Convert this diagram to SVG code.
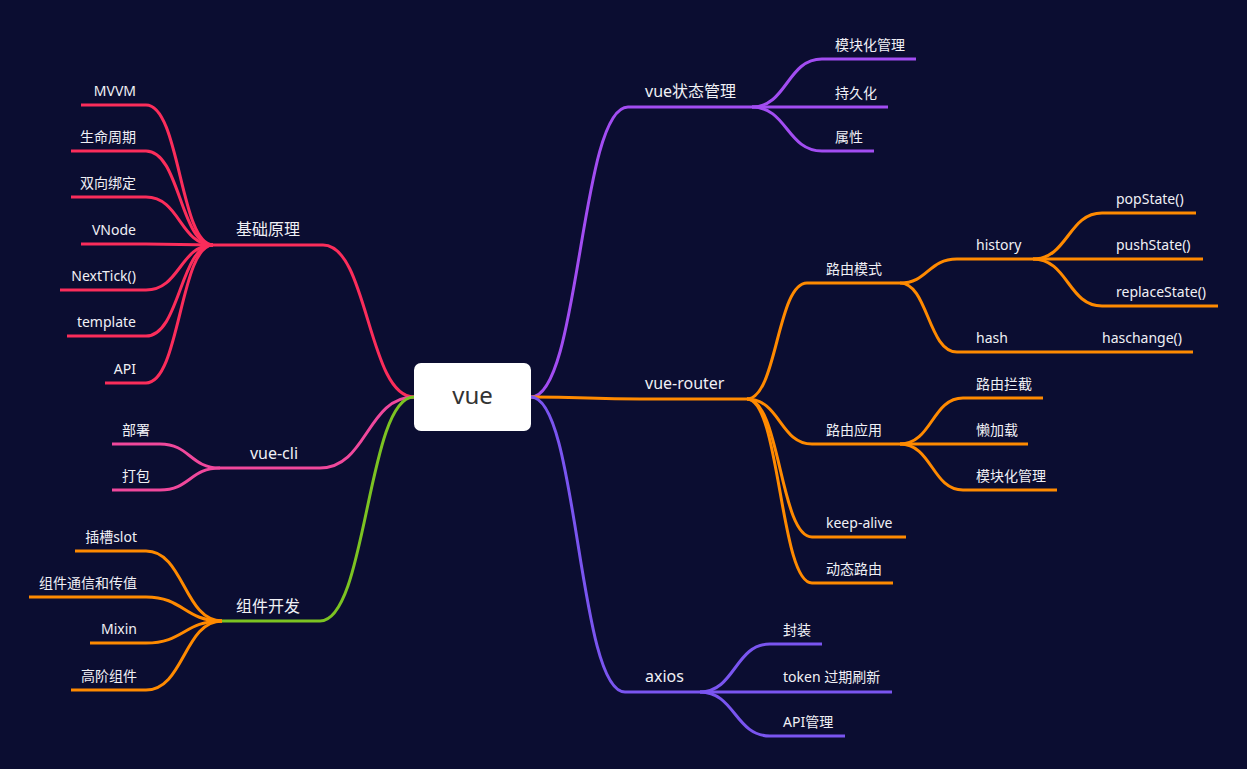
<svg xmlns="http://www.w3.org/2000/svg" width="1247" height="769" viewBox="0 0 1247 769">
<style>
.t{font-family:"Noto Sans","Noto Sans CJK SC",sans-serif;font-size:14px;fill:#f0f0f5}
.l1{font-size:16px}
.e{text-anchor:end}
.m{text-anchor:middle}
path{fill:none;stroke-width:3;stroke-linecap:butt}
.red{stroke:#fb2d5b}
.pink{stroke:#f0489c}
.green{stroke:#7cc322}
.orange{stroke:#ff8a00}
.purple{stroke:#a24df2}
.violet{stroke:#7a55f0}
</style>
<rect width="1247" height="769" fill="#0b0d31"/>
<g id="connectors">
  <!-- 基础原理 -->
  <path class="red" d="M414 397 C368 397 368 245 323 245 H213"/>
  <path class="red" d="M81 105 H146 C180 105 180 245 213 245"/>
  <path class="red" d="M71 151 H146 C180 151 180 245 213 245"/>
  <path class="red" d="M71 197 H146 C180 197 180 245 213 245"/>
  <path class="red" d="M81 244 H146 C180 244 180 245 213 245"/>
  <path class="red" d="M60 290 H146 C180 290 180 245 213 245"/>
  <path class="red" d="M67 336 H146 C180 336 180 245 213 245"/>
  <path class="red" d="M105 383 H146 C180 383 180 245 213 245"/>
  <!-- vue-cli -->
  <path class="pink" d="M414 397 C367 397 367 468 320 468 H220"/>
  <path class="pink" d="M112 444 H160 C190 444 190 468 220 468"/>
  <path class="pink" d="M112 490 H160 C190 490 190 468 220 468"/>
  <!-- 组件开发 -->
  <path class="green" d="M414 397 C367 397 367 621 320 621 H222"/>
  <path class="orange" d="M75 551 H146 C184 551 184 621 222 621"/>
  <path class="orange" d="M29 597 H146 C184 597 184 621 222 621"/>
  <path class="orange" d="M90 643 H146 C184 643 184 621 222 621"/>
  <path class="orange" d="M71 690 H146 C184 690 184 621 222 621"/>
  <!-- vue状态管理 -->
  <path class="purple" d="M531 397 C580 397 580 107 628 107 H752"/>
  <path class="purple" d="M752 107 C787 107 787 59 822 59 H916"/>
  <path class="purple" d="M752 107 H888"/>
  <path class="purple" d="M752 107 C787 107 787 151 822 151 H874"/>
  <!-- vue-router -->
  <path class="orange" d="M531 397 C585 397 590 399 640 399 H747"/>
  <path class="orange" d="M747 399 C777 399 777 283 807 283 H900"/>
  <path class="orange" d="M747 399 C780 399 780 444 812 444 H900"/>
  <path class="orange" d="M747 399 C780 399 780 537 812 537 H906"/>
  <path class="orange" d="M747 399 C780 399 780 583 812 583 H893"/>
  <path class="orange" d="M900 283 C928 283 928 259 957 259 H1033"/>
  <path class="orange" d="M900 283 C928 283 928 352 957 352 H1193"/>
  <path class="orange" d="M1033 259 C1068 259 1068 213 1102 213 H1196"/>
  <path class="orange" d="M1033 259 H1203"/>
  <path class="orange" d="M1033 259 C1068 259 1068 306 1102 306 H1218"/>
  <path class="orange" d="M900 444 C932 444 932 398 963 398 H1043"/>
  <path class="orange" d="M900 444 H1028"/>
  <path class="orange" d="M900 444 C932 444 932 490 963 490 H1057"/>
  <!-- axios -->
  <path class="violet" d="M531 397 C578 397 578 692 625 692 H700"/>
  <path class="violet" d="M700 692 C735 692 735 644 770 644 H822"/>
  <path class="violet" d="M700 692 H892"/>
  <path class="violet" d="M700 692 C735 692 735 736 770 736 H845"/>
</g>
<g id="root">
  <rect x="414" y="363" width="117" height="68" rx="7" fill="#ffffff"/>
  <text x="472.5" y="404" class="m" style="font-family:'Noto Sans','Noto Sans CJK SC',sans-serif;font-size:24px;fill:#333333">vue</text>
</g>
<g id="n-jichu"><text class="t l1 m" x="268" y="235">基础原理</text></g>
<g id="n-mvvm"><text class="t e" x="136" y="96">MVVM</text></g>
<g id="n-lifecycle"><text class="t e" x="136" y="142">生命周期</text></g>
<g id="n-binding"><text class="t e" x="136" y="188">双向绑定</text></g>
<g id="n-vnode"><text class="t e" x="136" y="235">VNode</text></g>
<g id="n-nexttick"><text class="t e" x="136" y="281">NextTick()</text></g>
<g id="n-template"><text class="t e" x="136" y="327">template</text></g>
<g id="n-api"><text class="t e" x="136" y="374">API</text></g>
<g id="n-vuecli"><text class="t l1 m" x="274" y="459">vue-cli</text></g>
<g id="n-deploy"><text class="t e" x="150" y="435">部署</text></g>
<g id="n-pack"><text class="t e" x="150" y="481">打包</text></g>
<g id="n-component"><text class="t l1 m" x="268" y="612">组件开发</text></g>
<g id="n-slot"><text class="t e" x="137" y="542">插槽slot</text></g>
<g id="n-comm"><text class="t e" x="137" y="588">组件通信和传值</text></g>
<g id="n-mixin"><text class="t e" x="137" y="634">Mixin</text></g>
<g id="n-hoc"><text class="t e" x="137" y="681">高阶组件</text></g>
<g id="n-vuex"><text class="t l1" x="645" y="97">vue状态管理</text></g>
<g id="n-vuex-mod"><text class="t" x="835" y="50">模块化管理</text></g>
<g id="n-vuex-persist"><text class="t" x="835" y="98">持久化</text></g>
<g id="n-vuex-attr"><text class="t" x="835" y="142">属性</text></g>
<g id="n-router"><text class="t l1" x="645" y="389">vue-router</text></g>
<g id="n-mode"><text class="t" x="826" y="274">路由模式</text></g>
<g id="n-history"><text class="t" x="976" y="250">history</text></g>
<g id="n-pop"><text class="t" x="1116" y="204">popState()</text></g>
<g id="n-push"><text class="t" x="1116" y="250">pushState()</text></g>
<g id="n-replace"><text class="t" x="1116" y="297">replaceState()</text></g>
<g id="n-hash"><text class="t" x="976" y="343">hash</text></g>
<g id="n-haschange"><text class="t" x="1102" y="343">haschange()</text></g>
<g id="n-apply"><text class="t" x="826" y="435">路由应用</text></g>
<g id="n-guard"><text class="t" x="976" y="389">路由拦截</text></g>
<g id="n-lazy"><text class="t" x="976" y="435">懒加载</text></g>
<g id="n-rmod"><text class="t" x="976" y="481">模块化管理</text></g>
<g id="n-keepalive"><text class="t" x="826" y="528">keep-alive</text></g>
<g id="n-dynamic"><text class="t" x="826" y="574">动态路由</text></g>
<g id="n-axios"><text class="t l1" x="645" y="682">axios</text></g>
<g id="n-wrap"><text class="t" x="783" y="635">封装</text></g>
<g id="n-token"><text class="t" x="783" y="682">token 过期刷新</text></g>
<g id="n-apimgr"><text class="t" x="783" y="727">API管理</text></g>
</svg>
